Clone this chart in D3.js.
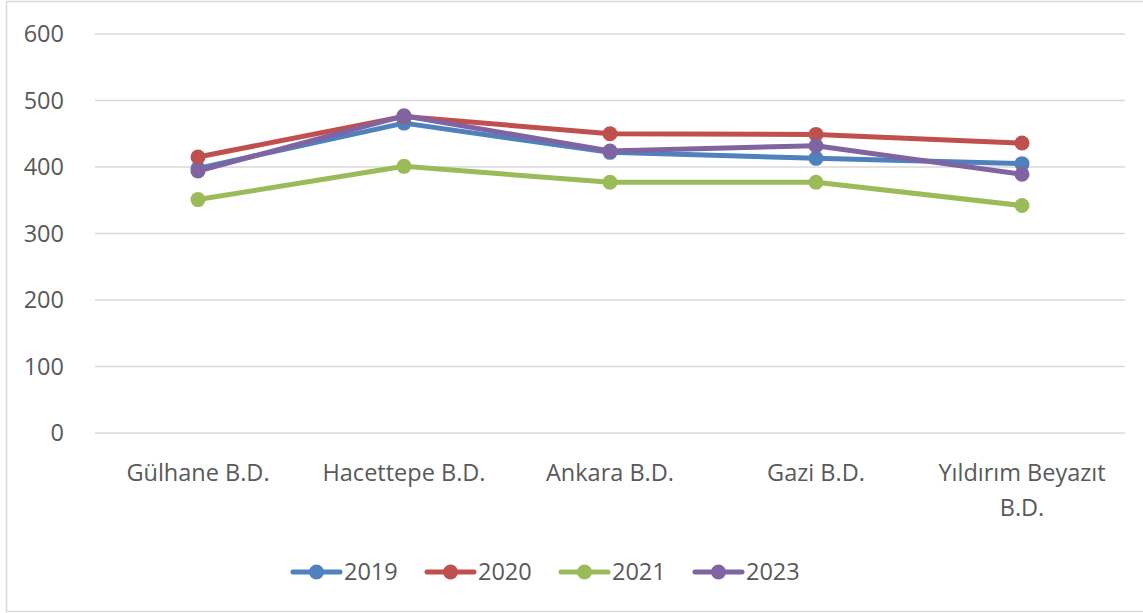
<!DOCTYPE html>
<html>
<head>
<meta charset="utf-8">
<script src="https://cdn.jsdelivr.net/npm/d3@7"></script>
<style>
  body { margin: 0; background: #fff; }
  svg { display: block; }
  svg text { font-family: "Open Sans", sans-serif; font-size: 23.5px; fill: #595959; }
</style>
</head>
<body>
<div id="main"></div>
<script>
const categories = ['Gülhane B.D.', 'Hacettepe B.D.', 'Ankara B.D.', 'Gazi B.D.', 'Yıldırım Beyazıt B.D.']
const years = ['2019', '2020', '2021', '2023']
const v2019 = [398, 466, 422, 413, 405]
const v2020 = [415, 476, 450, 449, 436]
const v2021 = [351, 401, 377, 377, 342]
const v2023 = [394, 477, 424, 432, 389]
const yTicks = [0, 100, 200, 300, 400, 500, 600]
const colors = ['#4f81bd', '#c0504d', '#9bbb59', '#8064a2']

const w = 1143, h = 613
const padLeft = 95, padRight = 1125, padTop = 34, padBottom = 433
const maxLabel = 200

const series = years.map((y, i) => ({ name: y, values: [v2019, v2020, v2021, v2023][i], color: colors[i] }))

const svg = d3.select('#main')
            .append('svg')
            .attr('width', w)
            .attr('height', h)

// chart frame
svg.append('path')
    .attr('d', `M${w},1.5 H6.5 V611.5 H${w}`)
    .attr('fill', 'none')
    .attr('stroke', '#d9d9d9')
    .attr('stroke-width', 1.5)

const xScale = d3.scaleBand()
                .domain(categories)
                .range([padLeft, padRight])
const yScale = d3.scaleLinear()
                .domain([0, 600])
                .range([padBottom, padTop])

// gridlines
svg.append('g')
    .selectAll('line')
    .data(yTicks)
    .enter()
    .append('line')
    .attr('x1', padLeft)
    .attr('x2', padRight)
    .attr('y1', d => yScale(d))
    .attr('y2', d => yScale(d))
    .attr('stroke', '#d9d9d9')
    .attr('stroke-width', 1.3)

const yAxis = d3.axisLeft(yScale)
                .tickValues(yTicks)
                .tickSize(0)
                .tickPadding(0)
const yLine = svg.append('g')
                .attr('transform', 'translate(64,0)')
                .call(yAxis)
yLine.attr('font-family', null).attr('font-size', null)
yLine.select('.domain').remove()

const xAxis = d3.axisBottom(xScale).tickSize(0).tickPadding(0)
const xLine = svg.append('g')
                .attr('transform', 'translate(0,' + padBottom + ')')
                .call(xAxis)
xLine.attr('font-family', null).attr('font-size', null)
xLine.select('.domain').remove()
xLine.selectAll('text')
    .attr('dy', 0)
    .each(function (d) {
        // wrap long labels
        const t = d3.select(this)
        const words = d.split(' ')
        t.text(null)
        let line = [], lines = []
        const tspan = t.append('tspan')
        words.forEach(word => {
            line.push(word)
            tspan.text(line.join(' '))
            if (tspan.node().getComputedTextLength() > maxLabel && line.length > 1) {
                line.pop()
                lines.push(line.join(' '))
                line = [word]
            }
        })
        lines.push(line.join(' '))
        t.text(null)
        lines.forEach((l, i) => {
            t.append('tspan')
                .attr('x', 0)
                .attr('y', 48 + i * 35)
                .text(l)
        })
    })

const cx = d => xScale(d) + xScale.bandwidth() / 2
const line = d3.line()
                .x((d, i) => cx(categories[i]))
                .y(d => yScale(d))

const plot = svg.append('g')
series.forEach(s => {
    plot.append('path')
        .datum(s.values)
        .attr('d', line)
        .attr('fill', 'none')
        .attr('stroke', s.color)
        .attr('stroke-width', 5)
        .attr('stroke-linejoin', 'round')
        .attr('stroke-linecap', 'round')
    plot.selectAll(null)
        .data(s.values)
        .enter()
        .append('circle')
        .attr('cx', (d, i) => cx(categories[i]))
        .attr('cy', d => yScale(d))
        .attr('r', 7.5)
        .attr('fill', s.color)
})

// legend
const legend = svg.append('g')
                .attr('transform', 'translate(293,572)')
const item = legend.selectAll('g')
                .data(series)
                .enter()
                .append('g')
                .attr('transform', (d, i) => 'translate(' + (i * 134) + ',0)')
item.append('line')
    .attr('x1', 0)
    .attr('x2', 47)
    .attr('stroke', d => d.color)
    .attr('stroke-width', 5)
    .attr('stroke-linecap', 'round')
item.append('circle')
    .attr('cx', 23.5)
    .attr('r', 7.5)
    .attr('fill', d => d.color)
item.append('text')
    .attr('x', 51)
    .attr('dy', '0.35em')
    .text(d => d.name)
</script>
</body>
</html>
